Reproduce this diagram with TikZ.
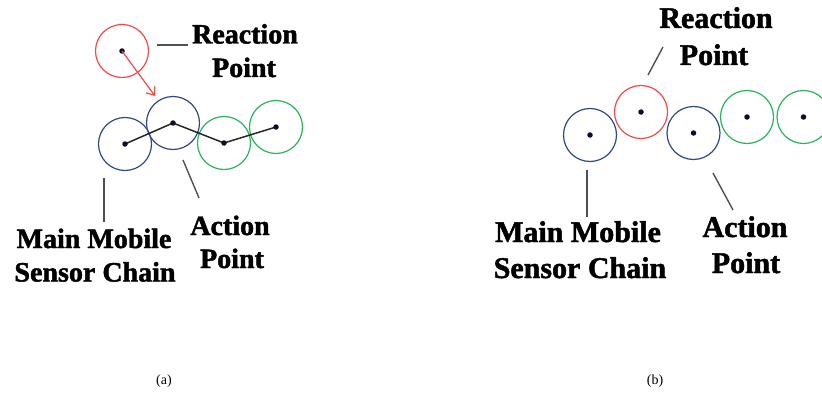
\documentclass[tikz,border=0pt]{standalone}
\usepackage{fontspec}
\setmainfont{Liberation Serif}[BoldFeatures={FakeBold=1.6}]
\usetikzlibrary{arrows.meta}
\definecolor{chainblue}{RGB}{47,72,135}
\definecolor{reactred}{RGB}{250,70,70}
\definecolor{freegreen}{RGB}{40,180,90}
\definecolor{leadergray}{RGB}{80,80,80}
\definecolor{dotnavy}{RGB}{10,15,45}
\tikzset{
  sensor/.style={circle, draw=#1, line width=1.2pt, minimum size=53pt, inner sep=0pt},
  dot/.style={circle, fill=dotnavy, minimum size=5.5pt, inner sep=0pt},
  leader/.style={draw=leadergray, line width=1.4pt},
  lbla/.style={font=\fontsize{28}{33}\selectfont\bfseries, inner sep=0pt, anchor=base},
  lblb/.style={font=\fontsize{30}{35}\selectfont\bfseries, inner sep=0pt, anchor=base},
  caption/.style={font=\fontsize{14}{16}\selectfont, inner sep=0pt},
  chain/.style={draw=black!85, line width=1.5pt},
}
\begin{document}
\begin{tikzpicture}[x=1pt, y=-1pt]
\useasboundingbox (0,0) rectangle (822,396);

% ---- (a): reaction point moving onto the chain ----
\node[sensor=reactred]   (ar) at (122,51)  {};
\node[sensor=chainblue]  (a1) at (125,144) {};
\node[sensor=chainblue]  (a2) at (173,123) {};
\node[sensor=freegreen]  (a3) at (224,143) {};
\node[sensor=freegreen]  (a4) at (276,127) {};

\draw[chain] (a1.center) -- (a2.center) -- (a3.center) -- (a4.center);
\foreach \n in {ar,a1,a2,a3,a4} \node[dot] (d\n) at (\n.center) {};

\coordinate (aarrow) at (155,96);
\draw[draw=reactred, line width=1.2pt, -{Straight Barb[length=7pt,width=11pt]}] (ar.center) -- (aarrow);

\coordinate (arl1) at (157,45);
\coordinate (arl2) at (188,45);
\draw[leader] (arl1) -- (arl2);
\node[lbla] (areact) at (245,43.5) {Reaction};
\node[lbla] (areactp) at (244,77) {Point};

\coordinate (aml1) at (104,178);
\coordinate (aml2) at (104,222);
\draw[leader] (aml1) -- (aml2);
\node[lbla] (amain) at (94,248) {Main Mobile};
\node[lbla] (amainb) at (95,281.5) {Sensor Chain};

\coordinate (aal1) at (183,160);
\coordinate (aal2) at (199,198);
\draw[leader] (aal1) -- (aal2);
\node[lbla] (aact) at (230,235) {Action};
\node[lbla] (aactp) at (232,268) {Point};

\node[caption] (capa) at (164,381) {(a)};

% ---- (b): reaction point placed in the chain ----
\node[sensor=chainblue]  (b1) at (590,135) {};
\node[sensor=reactred]   (br) at (641,112) {};
\node[sensor=chainblue]  (b2) at (693.5,133) {};
\node[sensor=freegreen]  (b3) at (747,117) {};
\node[sensor=freegreen]  (b4) at (803.5,117) {};
\foreach \n in {b1,br,b2,b3,b4} \node[dot] (d\n) at (\n.center) {};

\coordinate (brl1) at (648,75);
\coordinate (brl2) at (663,47);
\draw[leader] (brl1) -- (brl2);
\node[lblb] (breact) at (716,28) {Reaction};
\node[lblb] (breactp) at (714,65) {Point};

\coordinate (bml1) at (587,170);
\coordinate (bml2) at (587,217);
\draw[leader] (bml1) -- (bml2);
\node[lblb] (bmain) at (578,242) {Main Mobile};
\node[lblb] (bmainb) at (580,278) {Sensor Chain};

\coordinate (bal1) at (713,173);
\coordinate (bal2) at (733,210);
\draw[leader] (bal1) -- (bal2);
\node[lblb] (bact) at (745,237) {Action};
\node[lblb] (bactp) at (746,273) {Point};

\node[caption] (capb) at (655,381) {(b)};
\end{tikzpicture}
\end{document}
